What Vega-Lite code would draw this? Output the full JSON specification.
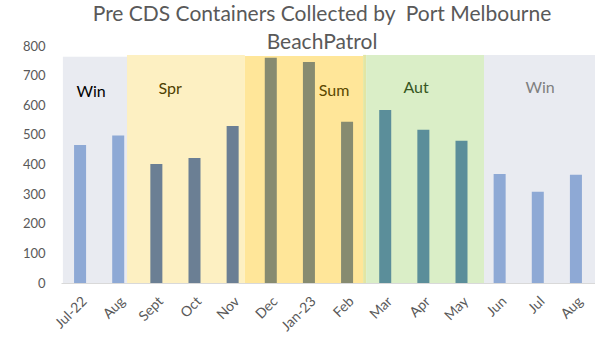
{
  "$schema": "https://vega.github.io/schema/vega-lite/v6.json",
  "width": 534,
  "height": 237,
  "autosize": {"type": "none"},
  "padding": {"left": 61, "top": 46, "right": 0, "bottom": 72},
  "background": "white",
  "config": {
    "view": {"stroke": null},
    "font": "Lato"
  },
  "title": {
    "text": ["Pre CDS Containers Collected by \u00a0Port Melbourne", "BeachPatrol"],
    "font": "Lato",
    "fontSize": 21,
    "fontWeight": "normal",
    "color": "#595959",
    "lineHeight": 28,
    "anchor": "middle",
    "frame": "group",
    "dx": -6,
    "offset": -13
  },
  "datasets": {
    "bars": [
      {"idx": 0, "month": "Jul-22", "season": "Win", "count": 466},
      {"idx": 1, "month": "Aug", "season": "Win", "count": 498},
      {"idx": 2, "month": "Sept", "season": "Spr", "count": 402},
      {"idx": 3, "month": "Oct", "season": "Spr", "count": 422},
      {"idx": 4, "month": "Nov", "season": "Spr", "count": 530},
      {"idx": 5, "month": "Dec", "season": "Sum", "count": 760},
      {"idx": 6, "month": "Jan-23", "season": "Sum", "count": 746},
      {"idx": 7, "month": "Feb", "season": "Sum", "count": 544},
      {"idx": 8, "month": "Mar", "season": "Aut", "count": 584},
      {"idx": 9, "month": "Apr", "season": "Aut", "count": 517},
      {"idx": 10, "month": "May", "season": "Aut", "count": 480},
      {"idx": 11, "month": "Jun", "season": "Win", "count": 368},
      {"idx": 12, "month": "Jul", "season": "Win", "count": 308},
      {"idx": 13, "month": "Aug", "season": "Win", "count": 365}
    ],
    "bands": [
      {"season": "Win", "start": 0.05, "end": 1.73, "top": 764},
      {"season": "Spr", "start": 1.73, "end": 4.82, "top": 770},
      {"season": "Sum", "start": 4.82, "end": 7.92, "top": 766},
      {"season": "Edge", "start": 7.92, "end": 8.0, "top": 770},
      {"season": "Aut", "start": 8.0, "end": 11.09, "top": 770},
      {"season": "Win", "start": 11.09, "end": 14, "top": 770}
    ],
    "labels": [
      {"id": "WinL", "text": "Win", "pos": 0.79, "level": 645},
      {"id": "Spr", "text": "Spr", "pos": 2.86, "level": 655},
      {"id": "Sum", "text": "Sum", "pos": 7.16, "level": 648},
      {"id": "Aut", "text": "Aut", "pos": 9.31, "level": 658},
      {"id": "WinR", "text": "Win", "pos": 12.56, "level": 658}
    ]
  },
  "layer": [
    {
      "data": {"name": "bands"},
      "mark": {"type": "rect", "opacity": 0.85},
      "encoding": {
        "x": {"field": "start", "type": "quantitative", "scale": {"domain": [0, 14], "nice": false, "zero": false}, "axis": null},
        "x2": {"field": "end"},
        "y": {"field": "top", "type": "quantitative", "scale": {"domain": [0, 800], "nice": false}, "axis": null},
        "y2": {"datum": 0},
        "color": {"field": "season", "type": "nominal", "legend": null,
          "scale": {"domain": ["Win", "Spr", "Sum", "Edge", "Aut"], "range": ["#E5E7EE", "#FDEDB7", "#FFE287", "#DDE294", "#D3EBBD"]}}
      }
    },
    {
      "data": {"name": "bars"},
      "mark": {"type": "bar"},
      "encoding": {
        "x": {"field": "idx", "type": "ordinal",
          "scale": {"paddingInner": 0.685, "paddingOuter": 0.3425},
          "axis": {"title": null, "labelAngle": -45, "labelAlign": "right", "labelBaseline": "top",
            "labelPadding": 11, "labelFontSize": 14, "labelColor": "#595959", "labelFont": "Lato",
            "ticks": false, "domainColor": "#D9D9D9", "domainWidth": 1,
            "labelExpr": "['Jul-22','Aug','Sept','Oct','Nov','Dec','Jan-23','Feb','Mar','Apr','May','Jun','Jul','Aug'][datum.value]"}},
        "y": {"field": "count", "type": "quantitative",
          "scale": {"domain": [0, 800], "nice": false},
          "axis": {"title": null, "values": [0, 100, 200, 300, 400, 500, 600, 700, 800],
            "labelOverlap": false,
            "domain": false, "ticks": false, "labelPadding": 16, "labelFontSize": 13, "labelColor": "#595959", "labelFont": "Lato",
            "gridColor": "#D9D9D9", "gridWidth": 1}},
        "color": {"field": "season", "type": "nominal", "legend": null,
          "scale": {"domain": ["Win", "Spr", "Sum", "Aut"], "range": ["#8EA9D5", "#6B7F94", "#878B70", "#5B8E9A"]}}
      }
    },
    {
      "data": {"name": "labels"},
      "mark": {"type": "text", "fontSize": 16, "font": "Lato", "fontWeight": "normal", "align": "center", "baseline": "middle"},
      "encoding": {
        "x": {"field": "pos", "type": "quantitative", "scale": {"domain": [0, 14], "nice": false, "zero": false}, "axis": null},
        "y": {"field": "level", "type": "quantitative", "scale": {"domain": [0, 800], "nice": false}, "axis": null},
        "text": {"field": "text"},
        "color": {"field": "id", "type": "nominal", "legend": null,
          "scale": {"domain": ["WinL", "Spr", "Sum", "Aut", "WinR"], "range": ["#000000", "#4D4000", "#5A4700", "#375623", "#7F7F7F"]}}
      }
    }
  ],
  "resolve": {"scale": {"x": "independent", "y": "independent", "color": "independent"}}
}
